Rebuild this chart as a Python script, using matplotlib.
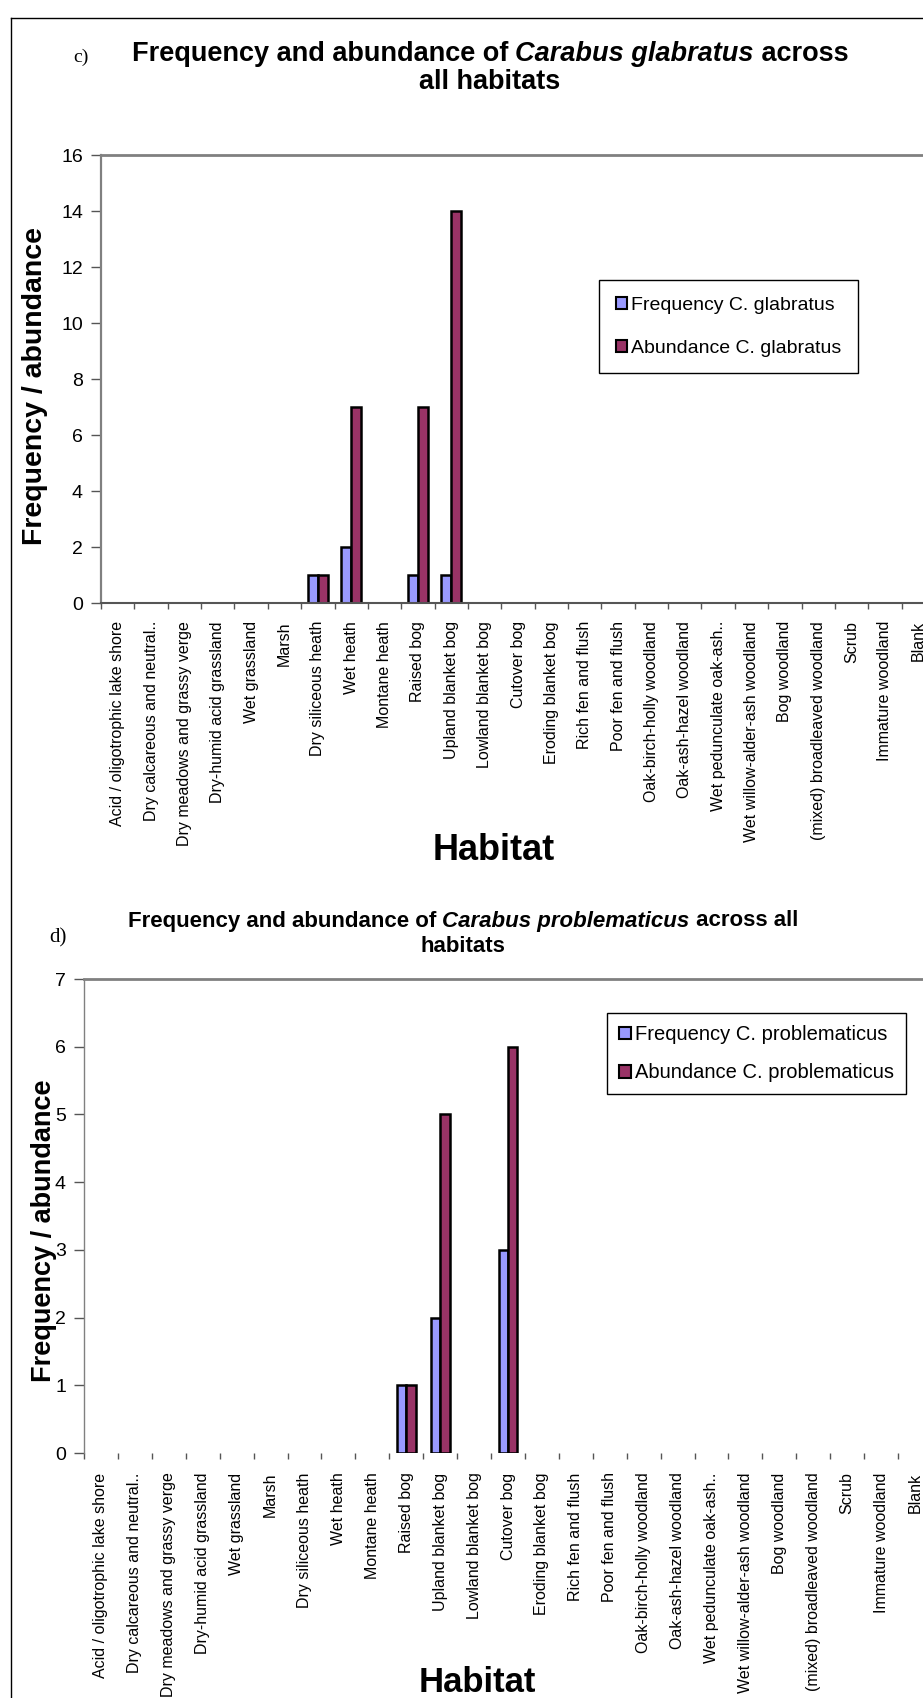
"""Frequency and abundance of two Carabus species across habitat types (panels c and d)."""
import matplotlib

matplotlib.use("Agg")
import matplotlib.pyplot as plt
import numpy as np
from matplotlib.lines import Line2D
from matplotlib.patches import Patch

W, H, DPI = 923, 1698, 100
FREQ_C, ABUND_C = "#9999ff", "#993366"
SANS = ["Liberation Sans", "DejaVu Sans"]
SERIF = ["Liberation Serif", "DejaVu Serif"]

HABITATS = [
    "Acid / oligotrophic lake shore", "Dry calcareous and neutral..",
    "Dry meadows and grassy verge", "Dry-humid acid grassland", "Wet grassland",
    "Marsh", "Dry siliceous heath", "Wet heath", "Montane heath", "Raised bog",
    "Upland blanket bog", "Lowland blanket bog", "Cutover bog",
    "Eroding blanket bog", "Rich fen and flush", "Poor fen and flush",
    "Oak-birch-holly woodland", "Oak-ash-hazel woodland",
    "Wet pedunculate oak-ash..", "Wet willow-alder-ash woodland",
    "Bog woodland", "(mixed) broadleaved woodland", "Scrub",
    "Immature woodland", "Blank",
]
GLAB_FREQ = [0, 0, 0, 0, 0, 0, 1, 2, 0, 1, 1, 0, 0, 0, 0, 0, 0, 0, 0, 0, 0, 0, 0, 0, 0]
GLAB_ABUND = [0, 0, 0, 0, 0, 0, 1, 7, 0, 7, 14, 0, 0, 0, 0, 0, 0, 0, 0, 0, 0, 0, 0, 0, 0]
PROB_FREQ = [0, 0, 0, 0, 0, 0, 0, 0, 0, 1, 2, 0, 3, 0, 0, 0, 0, 0, 0, 0, 0, 0, 0, 0, 0]
PROB_ABUND = [0, 0, 0, 0, 0, 0, 0, 0, 0, 1, 5, 0, 6, 0, 0, 0, 0, 0, 0, 0, 0, 0, 0, 0, 0]

plt.rcParams["font.family"] = SANS
fig = plt.figure(figsize=(W / DPI, H / DPI), dpi=DPI, facecolor="white")


def px_rect(l, t, r, b):
    return [l / W, 1 - b / H, (r - l) / W, (b - t) / H]


def rich_line(y_px, xc_px, parts, size):
    """Centre a line made of (text, style) runs at the given pixel position."""
    r = fig.canvas.get_renderer()
    runs = [fig.text(0, 1 - y_px / H, s, fontsize=size, fontweight="bold", style=st,
                     va="center", ha="left") for s, st in parts]
    widths = [t.get_window_extent(r).width for t in runs]
    x = xc_px - sum(widths) / 2
    for t, w in zip(runs, widths):
        t.set_x(x / W)
        x += w


def panel(rect, freq, abund, ymax, bw, sp_left, sp_bottom, lab_pad):
    ax = fig.add_axes(px_rect(*rect))
    x = np.arange(len(HABITATS))
    for vals, off, col in [(freq, -bw / 2, FREQ_C), (abund, bw / 2, ABUND_C)]:
        v = np.array(vals, dtype=float)
        ax.bar(x + off, v, width=bw, color=col,
               edgecolor=["black" if h > 0 else "none" for h in v], linewidth=1.8)
    ax.set_xlim(-0.5, len(HABITATS) - 0.5)
    ax.set_ylim(0, ymax)
    ax.set_yticks(range(0, ymax + 1, 2 if ymax > 10 else 1))
    ax.set_xticks(np.arange(len(HABITATS) + 1) - 0.5)
    ax.set_xticklabels([])
    ax.set_xticks(x, minor=True)
    ax.set_xticklabels(HABITATS, minor=True, rotation=90, va="top", ha="center",
                       fontsize=11.5)
    ax.tick_params(axis="x", which="major", direction="out", length=4, width=1, color="#555")
    ax.tick_params(axis="x", which="minor", length=0, pad=lab_pad)
    ax.tick_params(axis="y", direction="out", length=7, width=1, color="#555",
                   labelsize=14, pad=6)
    ax.spines["right"].set_visible(False)
    ax.spines["top"].set_color("#808080")
    ax.spines["top"].set_linewidth(2)
    ax.spines["left"].set_color("#808080")
    ax.spines["left"].set_linewidth(sp_left)
    if sp_bottom:
        ax.spines["bottom"].set_color("#555555")
        ax.spines["bottom"].set_linewidth(sp_bottom)
    else:
        ax.spines["bottom"].set_visible(False)
    return ax


def legend(ax, labels, anchor, size, spacing, pad):
    handles = [Patch(facecolor=c, edgecolor="black", lw=1.5, label=l)
               for c, l in zip((FREQ_C, ABUND_C), labels)]
    leg = ax.legend(handles=handles, loc="upper left",
                    bbox_to_anchor=(anchor[0] / W, 1 - anchor[1] / H),
                    bbox_transform=fig.transFigure, borderaxespad=0, fancybox=False,
                    edgecolor="black", framealpha=1, fontsize=size, handlelength=0.6,
                    handleheight=0.6, handletextpad=0.2, labelspacing=spacing,
                    borderpad=pad)
    leg.get_frame().set_linewidth(1)


# panel c: Carabus glabratus
ax1 = panel((101, 155, 935, 603), GLAB_FREQ, GLAB_ABUND, 16, 0.3, 1.6, 1.5, 13)
fig.text(81 / W, 1 - 57 / H, "c)", fontsize=14, family=SERIF, ha="center", va="center")
rich_line(54, 490, [("Frequency and abundance of ", "normal"), ("Carabus glabratus", "italic"),
                    (" across", "normal")], 19.5)
rich_line(82, 490, [("all habitats", "normal")], 19.5)
fig.text(35 / W, 1 - 386 / H, "Frequency / abundance", rotation=90, fontsize=20.5,
         fontweight="bold", ha="center", va="center")
fig.text(494 / W, 1 - 850 / H, "Habitat", fontsize=26, fontweight="bold",
         ha="center", va="center")
legend(ax1, ["Frequency C. glabratus", "Abundance C. glabratus"], (599, 280), 14, 1.35, 0.85)

# panel d: Carabus problematicus
ax2 = panel((84, 979, 932, 1453), PROB_FREQ, PROB_ABUND, 7, 0.28, 1, 0, 14)
fig.text(58 / W, 1 - 938 / H, "d)", fontsize=15, family=SERIF, ha="center", va="center")
rich_line(921, 463, [("Frequency and abundance of ", "normal"),
                     ("Carabus problematicus", "italic"), (" across all", "normal")], 16)
rich_line(947, 463, [("habitats", "normal")], 16)
fig.text(44 / W, 1 - 1231 / H, "Frequency / abundance", rotation=90, fontsize=19.5,
         fontweight="bold", ha="center", va="center")
fig.text(477 / W, 1 - 1682 / H, "Habitat", fontsize=25, fontweight="bold",
         ha="center", va="center")
legend(ax2, ["Frequency C. problematicus", "Abundance C. problematicus"], (607, 1013),
       14.5, 0.95, 0.6)

# outer frame of the figure sheet
fig.add_artist(Line2D([11 / W, 11 / W], [0, 1 - 18 / H], color="black", lw=1))
fig.add_artist(Line2D([11 / W, 1], [1 - 18 / H, 1 - 18 / H], color="black", lw=1))

fig.savefig("out.png", dpi=DPI)
